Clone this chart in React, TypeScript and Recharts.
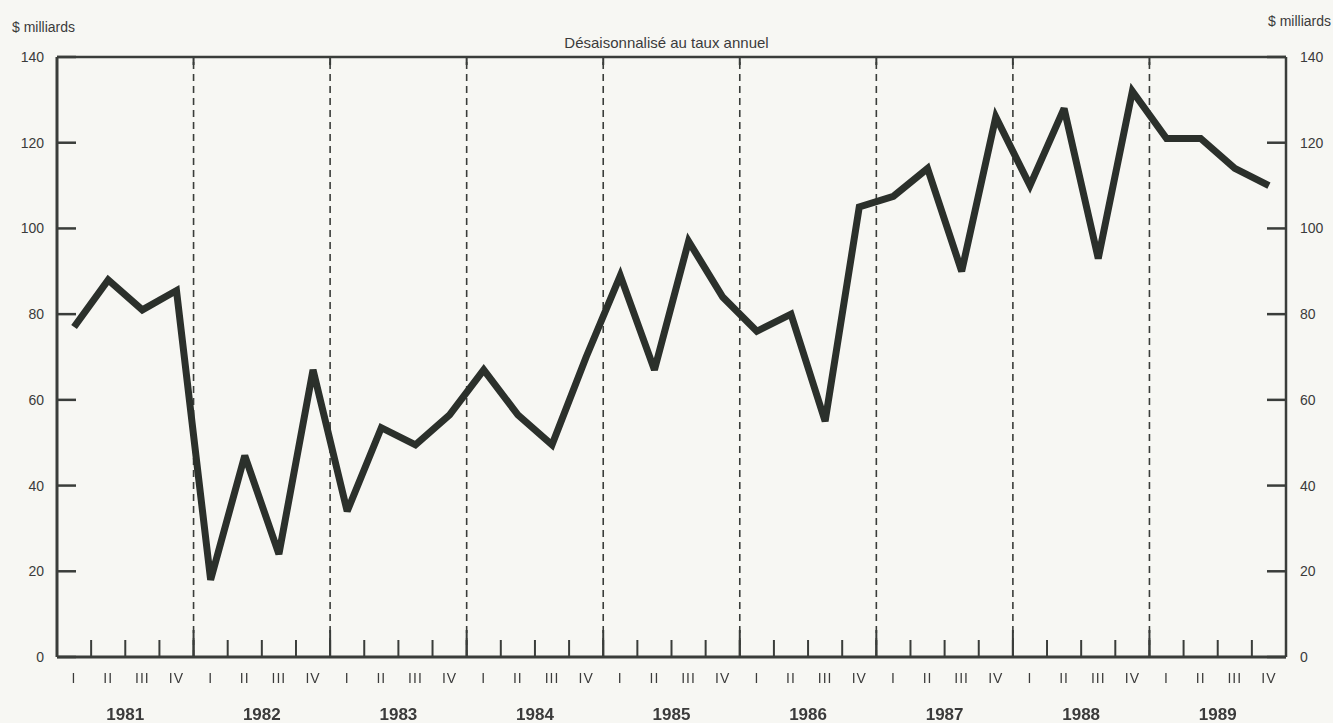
import { LineChart, Line, XAxis, YAxis, ReferenceLine } from "recharts"

// quarterly series, 1981 I .. 1989 IV ($ milliards, désaisonnalisé au taux annuel)
const years = ["1981", "1982", "1983", "1984", "1985", "1986", "1987", "1988", "1989"]
const quarters = ["I", "II", "III", "IV"]
const values = [
  77, 88, 81, 85.5,
  18, 47, 24, 67,
  34, 53.5, 49.5, 56.5,
  67, 56.5, 49.5, 70,
  89, 67, 97, 84,
  76, 80, 55, 105,
  107.5, 114, 90, 126,
  110, 128, 93, 132,
  121, 121, 114, 110,
]
const yTicks = [0, 20, 40, 60, 80, 100, 120, 140]

const data = values.map((v, i) => ({ x: i + 0.5, v }))
const nQ = years.length * quarters.length
const quarterEdges = Array.from({ length: nQ + 1 }, (_, i) => i)
const quarterMids = Array.from({ length: nQ }, (_, i) => i + 0.5)
const yearEdges = years.slice(1).map((_, i) => (i + 1) * quarters.length)
const yearMids = years.map((_, i) => i * quarters.length + quarters.length / 2)

const FONT = "'Liberation Sans', Arial, sans-serif"
const INK = "#3a3d3a"
const TEXT = "#3b3b3b"

const Blank = () => <g />

const RomanTick = ({ x, y, payload }: any) => (
  <text x={x} y={y} dy="0.71em" textAnchor="middle" fontSize={14} fill={TEXT} fontFamily={FONT}
    letterSpacing={1} style={{ filter: "grayscale(1)" }}>
    {quarters[Math.floor(payload.value) % quarters.length]}
  </text>
)

const YearTick = ({ x, y, payload }: any) => (
  <text x={x} y={y} dy="0.71em" textAnchor="middle" fontSize={17} fontWeight="bold" fill={TEXT} fontFamily={FONT}
    style={{ filter: "grayscale(1)" }}>
    {years[Math.floor(payload.value / quarters.length)]}
  </text>
)

const labelStyle = { fontSize: 14, fill: TEXT, fontFamily: FONT }

const xCommon = { dataKey: "x", type: "number" as const, domain: [0, nQ], allowDataOverflow: true, height: 1, interval: 0 as const }
const yCommon = { dataKey: "v", type: "number" as const, domain: [0, 140], allowDataOverflow: true, ticks: yTicks, width: 1, interval: 0 as const }

export default function App() {
  return (
    <div style={{ position: "absolute", left: 0, top: 0, width: 1333, height: 723, background: "#f7f7f3", fontFamily: FONT, color: TEXT }}>
      <div style={{ position: "absolute", left: 12, top: 19, fontSize: 14 }}>$ milliards</div>
      <div style={{ position: "absolute", right: 2, top: 13, fontSize: 14 }}>$ milliards</div>
      <div style={{ position: "absolute", left: 0, width: 1333, top: 34, textAlign: "center", fontSize: 15 }}>
        Désaisonnalisé au taux annuel
      </div>
      <LineChart width={1333} height={723} data={data} margin={{ top: 57, right: 46, bottom: 64, left: 56 }}>
        <XAxis xAxisId="q" {...xCommon} ticks={quarterEdges} mirror tickSize={17} tick={Blank}
          axisLine={{ stroke: INK, strokeWidth: 3 }} tickLine={{ stroke: INK, strokeWidth: 2 }} />
        <XAxis xAxisId="yb" {...xCommon} ticks={yearEdges} mirror tickSize={26} tick={Blank}
          axisLine={false} tickLine={{ stroke: INK, strokeWidth: 2 }} />
        <XAxis xAxisId="roman" {...xCommon} ticks={quarterMids} tickSize={0} tickMargin={16} tick={RomanTick}
          axisLine={false} tickLine={false} />
        <XAxis xAxisId="year" {...xCommon} ticks={yearMids} tickSize={0} tickMargin={50} tick={YearTick}
          axisLine={false} tickLine={false} />
        <XAxis xAxisId="top" orientation="top" {...xCommon} ticks={yearEdges} mirror tickSize={8} tick={Blank}
          axisLine={{ stroke: INK, strokeWidth: 2.5 }} tickLine={{ stroke: INK, strokeWidth: 2 }} />

        <YAxis yAxisId="left" {...yCommon} mirror tickSize={19} tick={Blank}
          axisLine={{ stroke: INK, strokeWidth: 3 }} tickLine={{ stroke: INK, strokeWidth: 2.5 }} />
        <YAxis yAxisId="leftLab" {...yCommon} tickSize={0} tickMargin={13} tick={labelStyle}
          axisLine={false} tickLine={false} />
        <YAxis yAxisId="right" orientation="right" {...yCommon} mirror tickSize={19} tick={Blank}
          axisLine={{ stroke: INK, strokeWidth: 2.5 }} tickLine={{ stroke: INK, strokeWidth: 2.5 }} />
        <YAxis yAxisId="rightLab" orientation="right" {...yCommon} tickSize={0} tickMargin={14} tick={labelStyle}
          axisLine={false} tickLine={false} />

        {yearEdges.map((e) => (
          <ReferenceLine key={e} xAxisId="q" yAxisId="left" x={e} stroke={INK} strokeWidth={1.6} strokeDasharray="7 5" />
        ))}

        <Line xAxisId="q" yAxisId="left" type="linear" dataKey="v" stroke="#2b302b" strokeWidth={7}
          strokeLinejoin="miter" strokeMiterlimit={3} dot={false} isAnimationActive={false} />
      </LineChart>
    </div>
  )
}
